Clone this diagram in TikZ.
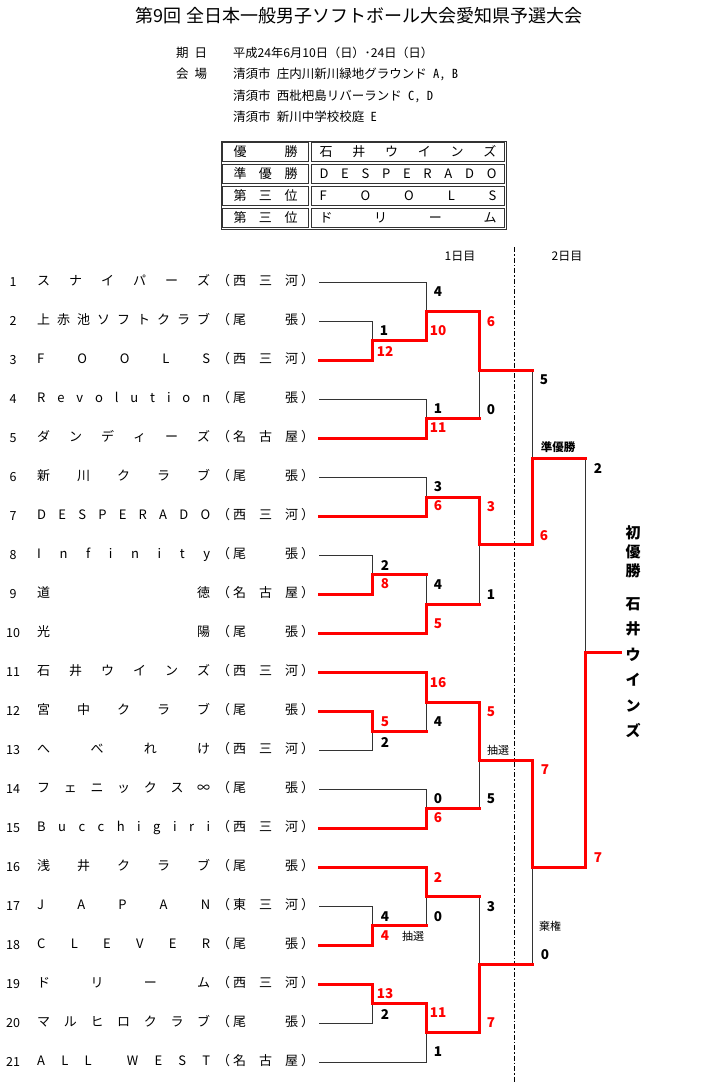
\documentclass[tikz,border=0pt]{standalone}
\usepackage{fontspec}
\setmainfont{Noto Sans CJK JP}
\usetikzlibrary{positioning}

% spread the letters of a word over a given width
\def\spA#1#2{#1\ifx\relax#2\expandafter\spstop\else\hfill\expandafter\spA\fi#2}
\def\spstop#1{}
\newcommand{\spreadtext}[2]{\hbox to #1{\expandafter\spA#2\relax}}

\begin{document}
\begin{tikzpicture}[x=1pt, y=-1pt,
  lose/.style={draw=black!80, line width=0.8pt},
  win/.style={draw=red, line width=3pt, line cap=rect},
  teamtxt/.style={anchor=west, inner sep=0pt, text height=9.5pt, text depth=2.5pt, font=\fontsize{13}{15}\selectfont},
  num/.style={inner sep=0pt, font=\fontsize{12.5}{14}\selectfont},
  score/.style={inner sep=0pt, font=\fontsize{13.5}{15}\selectfont\bfseries},
  wscore/.style={score, text=red},
  note/.style={inner sep=0pt, font=\fontsize{11}{13}\selectfont},
  info/.style={anchor=west, inner sep=0pt, font=\fontsize{12.5}{14}\selectfont\addfontfeatures{RawFeature=+hwid}},
  cell/.style={draw=black!80, line width=0.7pt, minimum height=19pt, inner sep=0pt, font=\fontsize{13}{15}\selectfont},
]
\useasboundingbox (0,0) rectangle (710,1082);

% title and dates
\node[inner sep=0pt, font=\fontsize{18}{20}\selectfont] (title) at (359,16) {第9回 全日本一般男子ソフトボール大会愛知県予選大会};
\node[info] (dateLbl) at (176,53) {期\hspace{6pt}日};
\node[info, font=\fontsize{12.2}{14}\selectfont] (dateTxt) at (233,53) {平成24年6月10日（日）･24日（日）};
\node[info] (venueLbl) at (176,74) {会\hspace{6pt}場};
\node[info] (venue1) at (233,74) {清須市 庄内川新川緑地グラウンド A, B};
\node[info] (venue2) at (233,96) {清須市 西枇杷島リバーランド C, D};
\node[info] (venue3) at (233,117) {清須市 新川中学校校庭 E};

% result table
\draw[black!80, line width=0.8pt] (221,141) rectangle (506,229);
\foreach \r/\lbl/\res [count=\k] in {152/優勝/石井ウインズ, 174/準優勝/DESPERADO, 196/第三位/FOOLS, 218/第三位/ドリーム} {
  \node[cell, minimum width=86pt] (rank\k) at (265.5,\r) {\spreadtext{64pt}{\lbl}};
  \node[cell, minimum width=193pt] (team\k) at (408,\r) {\spreadtext{177pt}{\res}};
}

% days
\node[note, font=\fontsize{12}{14}\selectfont] (day1) at (460,256) {1日目};
\node[note, font=\fontsize{12}{14}\selectfont] (day2) at (567,256) {2日目};
\coordinate (dayTop) at (514,247);
\coordinate (dayBot) at (514,1082);
\draw[black, line width=0.7pt, dash pattern=on 5pt off 2pt on 1.5pt off 2pt] (dayTop) -- (dayBot);

% teams
\foreach \i/\nm/\rg in {1/スナイパーズ/西三河, 2/上赤池ソフトクラブ/尾張, 3/FOOLS/西三河,
  4/Revolution/尾張, 5/ダンディーズ/名古屋, 6/新川クラブ/尾張, 7/DESPERADO/西三河,
  8/Infinity/尾張, 9/道徳/名古屋, 10/光陽/尾張, 11/石井ウインズ/西三河,
  12/宮中クラブ/尾張, 13/へべれけ/西三河, 14/フェニックス∞/尾張, 15/Bucchigiri/西三河,
  16/浅井クラブ/尾張, 17/JAPAN/東三河, 18/CLEVER/尾張, 19/ドリーム/西三河,
  20/マルヒロクラブ/尾張, 21/ALL~WEST/名古屋} {
  \pgfmathsetmacro\y{282+39*(\i-1)}
  \node[num] (no\i) at (13,\y) {\i};
  \node[teamtxt] (name\i) at (37,\y) {\spreadtext{173pt}{\nm}};
  \node[teamtxt] (reg\i) at (217,\y) {（\hspace{3pt}\spreadtext{65pt}{\rg}\hspace{3pt}）};
  \coordinate (t\i) at (319,\y);
}

% match points
\coordinate (a1) at (372,340);
\coordinate (a2) at (372,574);
\coordinate (a3) at (372,731);
\coordinate (a4) at (372,925);
\coordinate (a5) at (372,1003);
\coordinate (b1) at (426,311);
\coordinate (b2) at (426,418);
\coordinate (b3) at (426,497);
\coordinate (b4) at (426,604);
\coordinate (b5) at (426,702);
\coordinate (b6) at (426,808);
\coordinate (b7) at (426,896);
\coordinate (b8) at (426,1032);
\coordinate (c1) at (479,370);
\coordinate (c2) at (479,544);
\coordinate (c3) at (479,760);
\coordinate (c4) at (479,964);
\coordinate (d1) at (532,458);
\coordinate (d2) at (532,867);
\coordinate (fin) at (585,652);
\coordinate (champ) at (620,652);

% losers
\foreach \t/\m in {2/a1, 1/b1, 4/b2, 6/b3, 8/a2, 13/a3, 14/b6, 17/a4, 20/a5, 21/b8}
  \draw[lose] (t\t) -| (\m);
\foreach \j/\m in {a2/b4, b2/c1, c1/d1, b4/c2, a3/b5, b6/c3, a4/b7, b7/c4, c4/d2, d1/fin}
  \draw[lose] (\j -| \m) -- (\m);

% winners
\foreach \t/\m in {3/a1, 5/b2, 7/b3, 9/a2, 10/b4, 11/b5, 12/a3, 15/b6, 16/b7, 18/a4, 19/a5}
  \draw[win] (t\t) -| (\m);
\foreach \j/\m in {a2/b4, b2/c1, c1/d1, b4/c2, a3/b5, b6/c3, a4/b7, b7/c4, c4/d2, d1/fin}
  \draw[win] (\j) -- (\j -| \m);
\foreach \j/\m in {a1/b1, b1/c1, b3/c2, c2/d1, b5/c3, c3/d2, a5/b8, b8/c4, d2/fin}
  \draw[win] (\j) -| (\m);
\draw[win] (fin) -- (champ);

% scores
\foreach \x/\y/\s [count=\k] in {384/331/1, 438/292/4, 438/409/1, 491/410/0, 438/487/3,
  385/565/2, 438/585/4, 491/595/1, 544/380/5, 598/468/2, 385/742/2, 438/722/4, 438/799/0,
  491/799/5, 545/955/0, 385/917/4, 438/917/0, 385/1014/2, 438/1052/1, 491/907/3}
  \node[score] (ls\k) at (\x,\y) {\s};
\foreach \x/\y/\s [count=\k] in {385/351/12, 438/331/10, 438/428/11, 491/322/6, 438/506/6,
  385/584/8, 438/624/5, 491/507/3, 544/536/6, 598/858/7, 385/722/5, 438/683/16, 438/818/6,
  491/712/5, 545/770/7, 385/936/4, 438/877/2, 385/994/13, 438/1013/11, 491/1023/7}
  \node[wscore] (ws\k) at (\x,\y) {\s};

\node[note] (lot1) at (498,750) {抽選};
\node[note] (lot2) at (413,936) {抽選};
\node[note] (forfeit) at (550,926) {棄権};
\node[note, font=\fontsize{11.5}{13}\selectfont\bfseries] (runnerup) at (558,447) {準優勝};

% champion
\node[align=center, inner sep=0pt, font=\fontsize{15}{19}\selectfont\bfseries] (champLbl) at (633,552) {初\\優\\勝};
\node[align=center, inner sep=0pt, font=\fontsize{15}{25.5}\selectfont\bfseries] (champName) at (633,667.5) {石\\井\\ウ\\イ\\ン\\ズ};
\end{tikzpicture}
\end{document}
